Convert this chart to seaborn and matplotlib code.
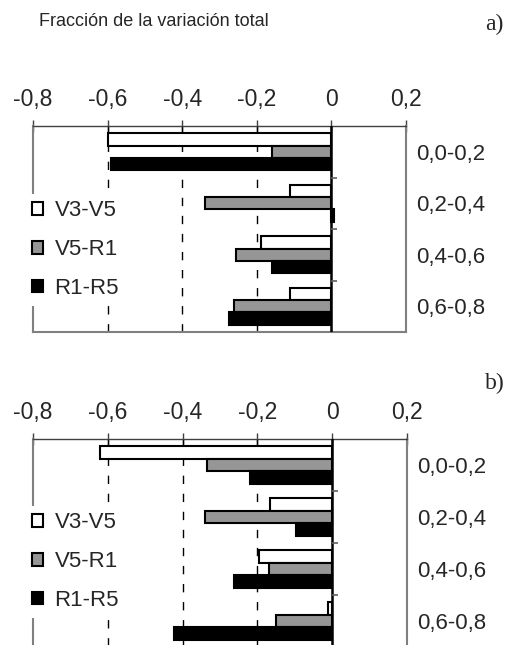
import pandas as pd
import seaborn as sns
import matplotlib.pyplot as plt

cats = ['0,0-0,2', '0,2-0,4', '0,4-0,6', '0,6-0,8']
series = ['V3-V5', 'V5-R1', 'R1-R5']
colors = ['white', '#969696', 'black']

# panel a)
a_v3v5 = [-0.60, -0.11, -0.19, -0.11]
a_v5r1 = [-0.16, -0.34, -0.255, -0.26]
a_r1r5 = [-0.59, 0.006, -0.16, -0.275]
# panel b)
b_v3v5 = [-0.62, -0.165, -0.197, -0.012]
b_v5r1 = [-0.335, -0.34, -0.17, -0.15]
b_r1r5 = [-0.22, -0.098, -0.262, -0.422]

xticks = [-0.8, -0.6, -0.4, -0.2, 0, 0.2]
xlabels = ['-0,8', '-0,6', '-0,4', '-0,2', '0', '0,2']

sns.set_style('white')
plt.rcParams['font.family'] = ['Liberation Sans', 'DejaVu Sans']


def make_df(v1, v2, v3):
    rows = []
    for s, vals in zip(series, [v1, v2, v3]):
        for c, v in zip(cats, vals):
            rows.append({'cat': c, 'serie': s, 'val': v})
    return pd.DataFrame(rows)


def panel(ax, df, leg_y):
    sns.barplot(data=df, x='val', y='cat', hue='serie', hue_order=series,
                palette=colors, edgecolor='black', linewidth=1.5,
                width=0.72, orient='h', ax=ax, zorder=2)
    ax.set_xlim(-0.8, 0.2)
    ax.set_ylim(3.5, -0.5)
    ax.xaxis.tick_top()
    ax.set_xticks(xticks)
    ax.set_xticklabels(xlabels)
    ax.tick_params(axis='x', direction='inout', length=9, width=1,
                   color='#404040', labelsize=16.5, pad=6)
    ax.yaxis.tick_right()
    ax.tick_params(axis='y', length=0, labelsize=16, pad=7)
    ax.set_xlabel('')
    ax.set_ylabel('')
    for t in xticks[1:4]:
        ax.axvline(t, color='black', lw=1, dashes=(6, 7), zorder=1)
    ax.axvline(0, color='black', lw=1.8, zorder=3)
    ax.hlines([i + 0.5 for i in range(len(cats) - 1)], 0, 0.015,
              color='#606060', lw=1.2, zorder=3)
    for side in ['left', 'right', 'bottom']:
        ax.spines[side].set_color('#808080')
        ax.spines[side].set_linewidth(1.5)
    ax.spines['top'].set_color('#404040')
    ax.spines['top'].set_linewidth(1)
    leg = ax.legend(loc='center left', bbox_to_anchor=(-0.02, leg_y),
                    fontsize=16, frameon=True, fancybox=False,
                    borderaxespad=0, borderpad=0.3, handlelength=0.5,
                    handleheight=0.5, handletextpad=0.5, labelspacing=0.8)
    leg.get_frame().set_facecolor('white')
    leg.get_frame().set_edgecolor('none')
    leg.get_frame().set_alpha(1)
    leg.set_zorder(5)


fig = plt.figure(figsize=(5.06, 6.45), dpi=100)
ax1 = fig.add_axes([33 / 506, 1 - 332 / 645, 373 / 506, 206 / 645])
ax2 = fig.add_axes([33 / 506, 1 - 647 / 645, 374 / 506, 208 / 645])

panel(ax1, make_df(a_v3v5, a_v5r1, a_r1r5), 0.40)
panel(ax2, make_df(b_v3v5, b_v5r1, b_r1r5), 0.41)

fig.text(0.078, 0.967, 'Fracción de la variación total', fontsize=13,
         va='center')
fig.text(0.958, 0.962, 'a)', fontsize=17, va='center', ha='left',
         family=['Liberation Serif', 'DejaVu Serif'])
fig.text(0.958, 0.405, 'b)', fontsize=17, va='center', ha='left',
         family=['Liberation Serif', 'DejaVu Serif'])

plt.savefig('out.png', dpi=100)
